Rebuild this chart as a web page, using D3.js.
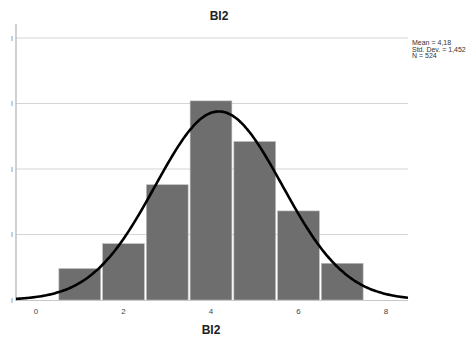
<!DOCTYPE html>
<html><head><meta charset="utf-8">
<script src="https://cdn.jsdelivr.net/npm/d3@7"></script>
<style>body{margin:0;background:#fff}svg{display:block}text{font-family:Arial,"Liberation Sans",sans-serif}</style>
</head><body><svg width="473" height="339"></svg>
<script>
const binCenters = [1, 2, 3, 4, 5, 6, 7];
const counts = [24, 43, 88, 152, 121, 68, 28];
const xTicks = [0, 2, 4, 6, 8];
const yTicks = [0, 50, 100, 150, 200];
const mean = 4.18, sd = 1.452, n = 524;
const statsLines = ["Mean = 4,18", "Std. Dev. = 1,452", "N = 524"];
const title = "BI2";

const svg = d3.select("svg");
const x = d3.scaleLinear().domain([0, 8]).range([36, 386]);
const y = d3.scaleLinear().domain([0, 200]).range([300, 38]);
const xMin = x.invert(16), xMax = x.invert(408);

// gridlines
svg.append("g").selectAll("line").data(yTicks.slice(1)).join("line")
  .attr("x1", 16).attr("x2", 408).attr("y1", d => y(d)).attr("y2", d => y(d))
  .attr("stroke", "#d4d4d4").attr("stroke-width", 1);

// bars
svg.append("g").selectAll("rect").data(binCenters).join("rect")
  .attr("x", d => x(d - 0.5) + 1).attr("width", d => x(d + 0.5) - x(d - 0.5) - 2)
  .attr("y", (d, i) => y(counts[i])).attr("height", (d, i) => y(0) - y(counts[i]))
  .attr("fill", "#6e6e6e").attr("stroke", "#bdbdbd").attr("stroke-width", 0.6);

// axes lines
svg.append("line").attr("x1", 16).attr("x2", 16).attr("y1", 24).attr("y2", 301)
  .attr("stroke", "#b0b0b0").attr("stroke-width", 1.2);
svg.append("line").attr("x1", 16).attr("x2", 408).attr("y1", 300.5).attr("y2", 300.5)
  .attr("stroke", "#c8c8c8").attr("stroke-width", 1);

// y tick labels (tiny marks as in reference)
svg.append("g").selectAll("text").data(yTicks).join("text")
  .attr("x", 12).attr("y", d => y(d) + 2.5).attr("text-anchor", "middle")
  .attr("font-size", 7).attr("fill", "#777").text("I");

// x tick labels
svg.append("g").selectAll("text").data(xTicks).join("text")
  .attr("x", d => x(d)).attr("y", 314).attr("text-anchor", "middle")
  .attr("font-size", 8).attr("fill", "#444").text(d => d);

// normal curve
const pts = d3.range(0, 201).map(i => xMin + (xMax - xMin) * i / 200);
const pdf = v => n / (sd * Math.sqrt(2 * Math.PI)) * Math.exp(-0.5 * ((v - mean) / sd) ** 2);
svg.append("path").datum(pts)
  .attr("d", d3.line().x(d => x(d)).y(d => y(pdf(d))).curve(d3.curveBasis))
  .attr("fill", "none").attr("stroke", "#000").attr("stroke-width", 2.6);

// titles
svg.append("text").attr("x", 219).attr("y", 20).attr("text-anchor", "middle")
  .attr("font-size", 12).attr("font-weight", "bold").attr("fill", "#222").text(title);
svg.append("text").attr("x", 211).attr("y", 334).attr("text-anchor", "middle")
  .attr("font-size", 12).attr("font-weight", "bold").attr("fill", "#222").text(title);

// stats
svg.append("g").selectAll("text").data(statsLines).join("text")
  .attr("x", 412).attr("y", (d, i) => 45 + i * 6.5)
  .attr("font-size", 7).attr("fill", "#333").text(d => d);
</script></body></html>
